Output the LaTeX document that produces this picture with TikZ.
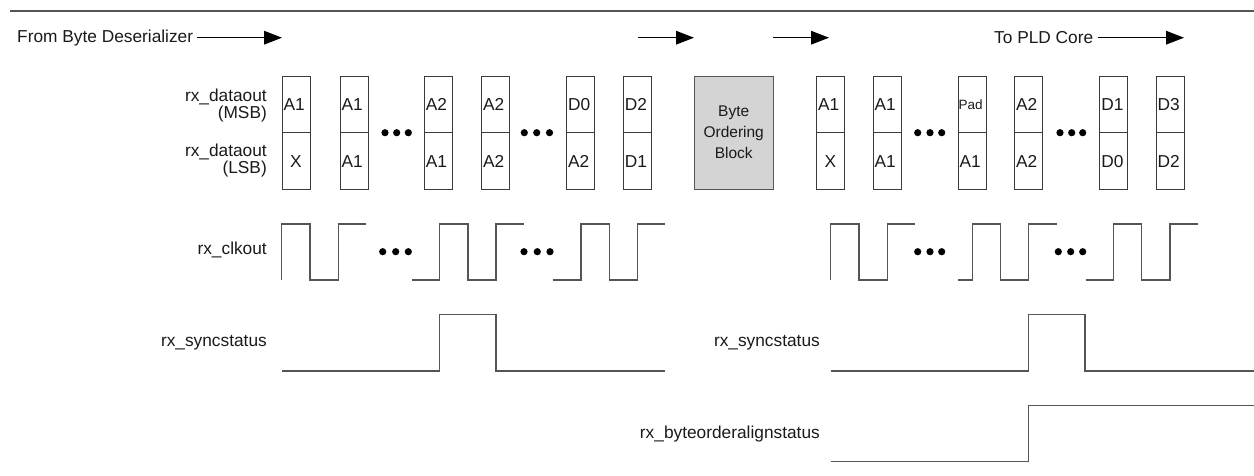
\documentclass[tikz,border=0pt]{standalone}
\usepackage{fontspec}
\setmainfont{Liberation Sans}
\usetikzlibrary{arrows.meta}
\definecolor{boxc}{HTML}{3A3A3A}
\definecolor{wavec}{HTML}{555555}
\definecolor{blockfill}{HTML}{D4D4D4}
\definecolor{txt}{HTML}{1A1A1A}
\begin{document}
\begin{tikzpicture}[x=1pt,y=-1pt,
  every node/.style={text=txt, font=\fontsize{17.3pt}{15.5pt}\selectfont},
  cellU/.style={draw=boxc, line width=1pt, minimum width=28pt, minimum height=56.7pt, inner xsep=1.5pt, inner ysep=0pt, text width=25pt, align=left},
  cellX/.style={cellU, align=center},
  rlabel/.style={anchor=east, align=right, inner sep=0pt},
  wave/.style={draw=wavec, line width=1.3pt},
  flow/.style={draw=black, line width=1.3pt, -{Triangle[length=18pt,width=13.6pt]}},
  dot/.style={circle, fill=black, inner sep=0pt, minimum size=7.2pt}]
\useasboundingbox (0,0) rectangle (1254,475);
% top rule
\draw[draw=wavec, line width=2pt] (10,10.5) -- (1254,10.5);
% flow arrows
\node[anchor=west, inner sep=0pt] (fromtxt) at (17,37.7) {From Byte Deserializer};
\coordinate (a1s) at (197.3,37.7); \coordinate (a1e) at (282,37.7);
\draw[flow] (a1s) -- (a1e);
\coordinate (a2s) at (637.5,37.7); \coordinate (a2e) at (694,37.7);
\draw[flow] (a2s) -- (a2e);
\coordinate (a3s) at (773,37.7); \coordinate (a3e) at (829,37.7);
\draw[flow] (a3s) -- (a3e);
\node[anchor=west, inner sep=0pt] (totxt) at (994,37.7) {To PLD Core};
\coordinate (a4s) at (1098,37.7); \coordinate (a4e) at (1184,37.7);
\draw[flow] (a4s) -- (a4e);
% row labels
\node[rlabel] (msb) at (267,106) {rx\_dataout\\(MSB)};
\node[rlabel] (lsb) at (267,161) {rx\_dataout\\(LSB)};
\node[rlabel] (clk) at (267,250) {rx\_clkout};
\node[rlabel] (sync1) at (267,343) {rx\_syncstatus};
\node[rlabel] (sync2) at (820,343) {rx\_syncstatus};
\node[rlabel] (bo) at (820,434) {rx\_byteorderalignstatus};
% left cells
\foreach \x/\u/\l/\n in {282/A1/X/1, 340/A1/A1/2, 424.3/A2/A1/3, 481.7/A2/A2/4, 566.7/D0/A2/5, 623.3/D2/D1/6}{
  \node[cellU] (lu\n) at (\x+14,104.35) {\u};
}
\node[cellX] (ll1) at (296,161.05) {X};
\foreach \x/\l/\n in {340/A1/2, 424.3/A1/3, 481.7/A2/4, 566.7/A2/5, 623.3/D1/6}{
  \node[cellU] (ll\n) at (\x+14,161.05) {\l};
}
% byte ordering block
\node[draw=wavec, fill=blockfill, line width=1pt, minimum width=79.3pt, minimum height=113.4pt, align=center, inner sep=0pt,
      font=\fontsize{15.5pt}{21pt}\selectfont] (bob) at (733.7,132.7) {Byte\\Ordering\\Block};
% right cells
\node[cellU] (ru1) at (830.5,104.35) {A1};
\node[cellX] (rl1) at (830.5,161.05) {X};
\node[cellU] (ru2) at (887.2,104.35) {A1};
\node[cellU] (rl2) at (887.2,161.05) {A1};
\node[cellU, font=\fontsize{13.5pt}{15pt}\selectfont, inner xsep=0.5pt, text width=27pt] (ru3) at (972.2,104.35) {Pad};
\node[cellU] (rl3) at (972.2,161.05) {A1};
\node[cellU] (ru4) at (1028.7,104.35) {A2};
\node[cellU] (rl4) at (1028.7,161.05) {A2};
\node[cellU] (ru5) at (1113.9,104.35) {D1};
\node[cellU] (rl5) at (1113.9,161.05) {D0};
\node[cellU] (ru6) at (1170,104.35) {D3};
\node[cellU] (rl6) at (1170,161.05) {D2};
% dots
\foreach \x [count=\i] in {385,396.7,408.3, 524.3,536.7,549.5, 917.7,930,941.7, 1060,1071.7,1082.7}{
  \node[dot] (dc\i) at (\x,132.7) {};
}
\foreach \x [count=\i] in {382.7,395.7,408.3, 524,537.3,550, 917.7,930,941.7, 1058.3,1070.7,1082.7}{
  \node[dot] (dk\i) at (\x,251.7) {};
}
% clocks
\draw[wave] (281.7,280)--(281.7,224)--(310,224)--(310,280)--(338.3,280)--(338.3,224)--(366,224);
\draw[wave] (411.7,280)--(439.3,280)--(439.3,224)--(468,224)--(468,280)--(496,280)--(496,224)--(524,224);
\draw[wave] (552.7,280)--(581,280)--(581,224)--(609.3,224)--(609.3,280)--(637.7,280)--(637.7,224)--(665,224);
\draw[wave] (830.7,280)--(830.7,224)--(859,224)--(859,280)--(887.3,280)--(887.3,224)--(915,224);
\draw[wave] (958.3,280)--(972.3,280)--(972.3,224)--(1000.7,224)--(1000.7,280)--(1028.7,280)--(1028.7,224)--(1056.7,224);
\draw[wave] (1085.7,280)--(1113.3,280)--(1113.3,224)--(1141.7,224)--(1141.7,280)--(1170,280)--(1170,224)--(1198.3,224);
% status
\draw[wave] (282,371)--(439.3,371)--(439.3,314.3)--(496,314.3)--(496,371)--(665,371);
\draw[wave] (830.7,371)--(1028.7,371)--(1028.7,314.3)--(1085,314.3)--(1085,371)--(1254,371);
\draw[wave] (830.7,461.7)--(1028.7,461.7)--(1028.7,405.3)--(1254,405.3);
\end{tikzpicture}
\end{document}
